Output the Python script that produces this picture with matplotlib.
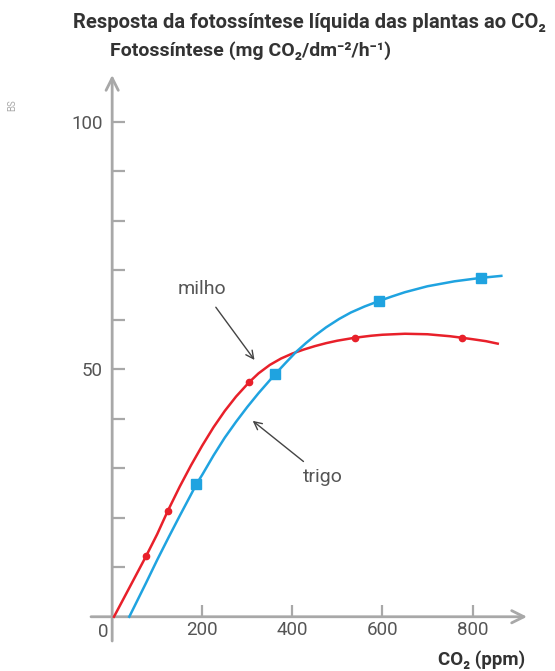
import matplotlib
matplotlib.use("Agg")
import matplotlib.pyplot as plt

# fontes
plt.rcParams['font.family'] = ['Roboto', 'DejaVu Sans']

# dados
milho_x = [4, 25, 50, 75, 100, 123, 150, 175, 200, 225, 250, 275, 304, 325, 350, 375, 400,
           425, 450, 475, 500, 539, 575, 600, 650, 700, 750, 776, 800, 830, 856]
milho_y = [0, 3.6, 7.9, 12.2, 16.7, 21.3, 26.3, 30.6, 34.6, 38.3, 41.6, 44.5, 47.4, 49.2,
           50.9, 52.2, 53.2, 54.0, 54.7, 55.3, 55.8, 56.4, 56.8, 57.0, 57.2, 57.1, 56.7,
           56.4, 56.1, 55.7, 55.2]
milho_px = [75, 123, 304, 539, 776]
milho_py = [12.2, 21.3, 47.4, 56.4, 56.4]

trigo_x = [38, 50, 75, 100, 125, 150, 175, 187, 200, 225, 250, 275, 300, 325, 350, 361.5,
           385, 408, 430, 450, 475, 504, 530, 560, 592, 620, 650, 700, 760, 819, 864]
trigo_y = [0, 2.2, 6.8, 11.5, 16.0, 20.4, 24.7, 26.8, 28.7, 32.6, 36.2, 39.4, 42.4, 45.2,
           47.8, 49.0, 51.3, 53.5, 55.3, 56.8, 58.5, 60.2, 61.5, 62.7, 63.8, 64.7, 65.6,
           66.8, 67.8, 68.5, 68.9]
trigo_px = [187, 361.5, 592, 819]
trigo_py = [26.8, 49.0, 63.8, 68.5]

xticks = [200, 400, 600, 800]
yticks = [10, 20, 30, 40, 50, 60, 70, 80, 90, 100]
ylabels = ['', '', '', '', '50', '', '', '', '', '100']

red = '#e8202a'
blue = '#1fa3e0'
axis_grey = '#a8a8a8'
text_grey = '#555555'
dark = '#333333'

W, H = 555, 671
fig = plt.figure(figsize=(W / 100, H / 100), dpi=100)
ax = fig.add_axes([91 / W, 1 - 641 / H, (527 - 91) / W, (641 - 75) / H])
ax.set_xlim(-47, 921)
ax.set_ylim(-4.9, 109.5)

for s in ax.spines.values():
    s.set_visible(False)
ax.patch.set_visible(False)

# eixos com setas abertas
ax.annotate('', xy=(1, 0), xycoords=('axes fraction', 'data'),
            xytext=(0, 0), textcoords=('axes fraction', 'data'),
            arrowprops=dict(arrowstyle='->', color=axis_grey, lw=2, mutation_scale=22,
                            shrinkA=0, shrinkB=0))
ax.annotate('', xy=(0, 1), xycoords=('data', 'axes fraction'),
            xytext=(0, 0), textcoords=('data', 'axes fraction'),
            arrowprops=dict(arrowstyle='->', color=axis_grey, lw=2, mutation_scale=22,
                            shrinkA=0, shrinkB=0))

# ticks
ax.set_xticks(xticks)
ax.set_xticklabels([str(v) for v in xticks])
ax.set_yticks(yticks)
ax.set_yticklabels(ylabels)
ax.tick_params(axis='x', direction='in', length=9, width=1.6, color=axis_grey,
               labelcolor=text_grey, labelsize=13.5, pad=3)
ax.tick_params(axis='y', direction='in', length=9, width=1.6, color=axis_grey,
               labelcolor=text_grey, labelsize=13.5, pad=7)
ax.spines['left'].set_position(('data', 0))
ax.spines['bottom'].set_position(('data', 0))
ax.text(-9, -1.2, '0', ha='right', va='top', fontsize=13.5, color=text_grey)

# curvas
ax.plot(milho_x, milho_y, color=red, lw=1.8, zorder=3)
ax.plot(milho_px, milho_py, 'o', color=red, ms=4.5, zorder=4)
ax.plot(trigo_x, trigo_y, color=blue, lw=1.8, zorder=3)
ax.plot(trigo_px, trigo_py, 's', color=blue, ms=7, zorder=4)

# anotações
ax.annotate('milho', xy=(316, 51.9), xytext=(200, 66.3), ha='center', va='center',
            fontsize=14, color=text_grey,
            arrowprops=dict(arrowstyle='->', color='#444444', lw=1, shrinkA=6, shrinkB=0))
ax.annotate('trigo', xy=(312, 39.6), xytext=(467, 28.3), ha='center', va='center',
            fontsize=14, color=text_grey,
            arrowprops=dict(arrowstyle='->', color='#444444', lw=1, shrinkA=4, shrinkB=0))

# textos
fig.text(309 / W, 1 - 22 / H, 'Resposta da fotossíntese líquida das plantas ao CO₂',
         ha='center', va='center', fontsize=14.5, fontweight='bold', color=dark)
fig.text(110 / W, 1 - 51 / H, 'Fotossíntese (mg CO₂/dm⁻²/h⁻¹)',
         ha='left', va='center', fontsize=14, fontweight='bold', color=dark)
fig.text(525 / W, 1 - 660 / H, 'CO₂ (ppm)', ha='right', va='center',
         fontsize=13.5, fontweight='bold', color=dark)
fig.text(12 / W, 1 - 105 / H, 'BS', ha='center', va='center', rotation=90,
         fontsize=7, color='#aaaaaa')

fig.savefig('out.png', dpi=100)
